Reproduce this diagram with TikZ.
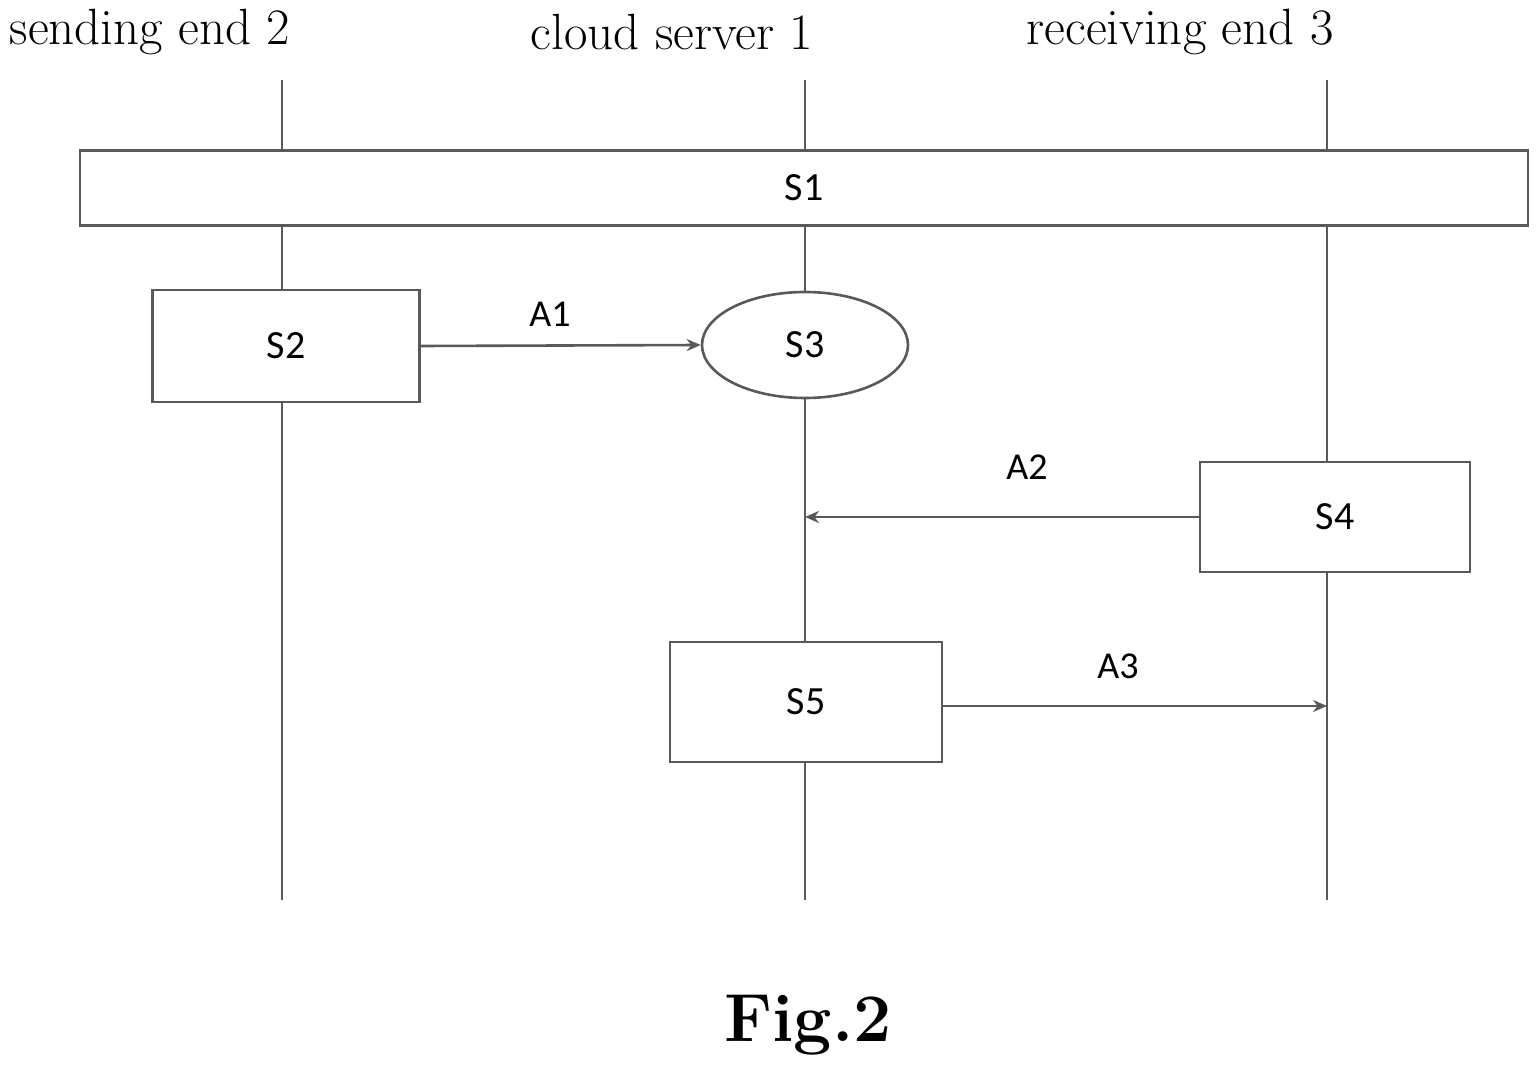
\documentclass[tikz,border=0pt]{standalone}
\usepackage{fontspec}
\setsansfont{Carlito}
\usetikzlibrary{arrows.meta,shapes.geometric}
\begin{document}
\begin{tikzpicture}[x=0.5pt,y=-0.5pt,
  ln/.style={draw=black!65,line width=1.3pt},
  box/.style={ln,fill=white,inner sep=0pt,font=\sffamily\fontsize{20}{24}\selectfont},
  lbl/.style={font=\sffamily\fontsize{19}{22}\selectfont},
  ttl/.style={font=\fontsize{25.5}{30}\selectfont},
  arr/.style={ln,-{Stealth[length=7pt,width=6pt]}}]
\useasboundingbox (0,0) rectangle (1540,1074);
\node[ttl] (t2) at (150,32) {sending end 2};
\node[ttl] (t1) at (672,32) {cloud server 1};
\node[ttl] (t3) at (1180,32) {receiving end 3};
\coordinate (l1t) at (282,80); \coordinate (l1b) at (282,900);
\coordinate (l2t) at (805,80); \coordinate (l2b) at (805,900);
\coordinate (l3t) at (1327,80); \coordinate (l3b) at (1327,900);
\draw[ln] (l1t)--(l1b); \draw[ln] (l2t)--(l2b); \draw[ln] (l3t)--(l3b);
\node[box,minimum width=724pt,minimum height=37.5pt] (S1) at (804,188) {S1};
\node[box,minimum width=133.5pt,minimum height=56pt] (S2) at (286,346) {S2};
\node[box,ellipse,minimum width=103pt,minimum height=53pt] (S3) at (805,345) {S3};
\node[box,minimum width=135pt,minimum height=55pt] (S4) at (1335,517) {S4};
\node[box,minimum width=136pt,minimum height=60pt] (S5) at (806,702) {S5};
\coordinate (a2e) at (805,517);
\coordinate (a3e) at (1327,706);
\draw[arr] (S2.east) -- (S3.west);
\draw[arr] (S4.west) -- (a2e);
\draw[arr] (S5.east |- a3e) -- (a3e);
\node[lbl] (A1) at (550,314) {A1};
\node[lbl] (A2) at (1027,467) {A2};
\node[lbl] (A3) at (1118,666) {A3};
\node[font=\bfseries\fontsize{34}{40}\selectfont] (fig) at (808,1025) {Fig.2};
\end{tikzpicture}
\end{document}
